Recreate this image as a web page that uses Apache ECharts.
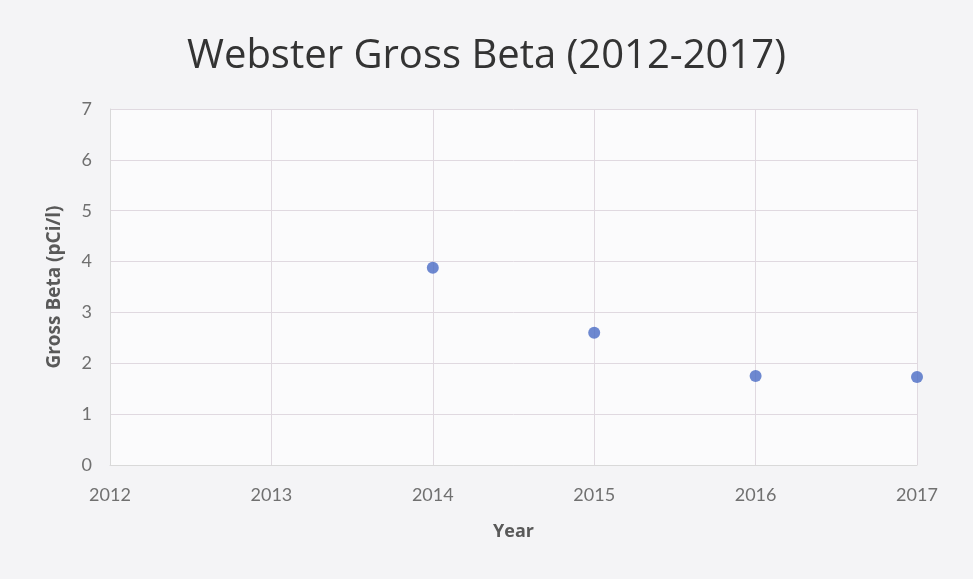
<!DOCTYPE html>
<html><head><meta charset="utf-8">
<script src="https://cdn.jsdelivr.net/npm/echarts@6/dist/echarts.min.js"></script>
<style>html,body{margin:0;padding:0;background:#f3f3f5;}#c{width:973px;height:579px;}</style>
</head><body><div id="c"></div>
<script>
const years = [2014, 2015, 2016, 2017];
const grossBeta = [3.88, 2.6, 1.75, 1.73];
const xTicks = [2012, 2013, 2014, 2015, 2016, 2017];
const yTicks = [0, 1, 2, 3, 4, 5, 6, 7];

const chart = echarts.init(document.getElementById('c'));
const font = 'Lato, "Open Sans", sans-serif';
const font2 = '"Open Sans", Lato, sans-serif';
chart.setOption({
  backgroundColor: '#f4f4f6',
  title: {
    text: 'Webster Gross Beta (2012-2017)',
    left: 'center', top: 32,
    textStyle: { fontFamily: font2, fontSize: 40, fontWeight: 'normal', color: '#333' }
  },
  grid: { left: 110, right: 56, top: 109, bottom: 114, backgroundColor: '#fbfbfc', show: true, borderWidth: 0 },
  xAxis: {
    type: 'value', min: xTicks[0], max: xTicks[xTicks.length - 1], interval: 1,
    name: 'Year', nameLocation: 'middle', nameGap: 58,
    nameTextStyle: { fontFamily: font2, fontSize: 18, fontWeight: 'bold', color: '#595959' },
    axisLine: { show: true, lineStyle: { color: '#d9d9d9' } },
    axisTick: { show: false },
    axisLabel: { fontFamily: font, fontSize: 18, color: '#707070', margin: 21, formatter: v => String(v) },
    splitLine: { show: true, lineStyle: { color: '#e0d9e0', width: 1 } }
  },
  yAxis: {
    type: 'value', min: yTicks[0], max: yTicks[yTicks.length - 1], interval: 1,
    name: 'Gross Beta (pCi/l)', nameLocation: 'middle', nameGap: 46,
    nameTextStyle: { fontFamily: font2, fontSize: 19, fontWeight: 'bold', color: '#595959' },
    axisLine: { show: true, lineStyle: { color: '#d9d9d9' } },
    axisTick: { show: false },
    axisLabel: { fontFamily: font, fontSize: 18, color: '#707070', margin: 18 },
    splitLine: { show: true, lineStyle: { color: '#e0d9e0', width: 1 } }
  },
  series: [{
    type: 'scatter',
    data: years.map((y, i) => [y, grossBeta[i]]),
    symbolSize: 12,
    itemStyle: { color: '#4a6bc4' }
  }]
});
</script></body></html>
